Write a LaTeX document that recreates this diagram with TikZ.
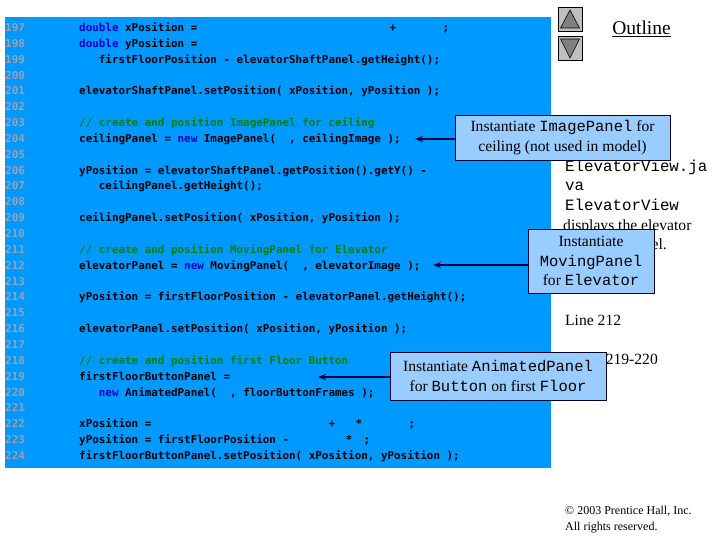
\documentclass[tikz,border=0pt]{standalone}
\usepackage{fontspec}
\setmainfont{Liberation Serif}
\newfontfamily\codef{DejaVu Sans Mono}
\newfontfamily\monof{Liberation Mono}
\usetikzlibrary{arrows.meta}
\definecolor{codebg}{RGB}{0,153,255}
\definecolor{lngray}{RGB}{160,160,170}
\definecolor{kw}{RGB}{0,0,204}
\definecolor{cmt}{RGB}{0,128,0}
\definecolor{callfill}{RGB}{153,204,255}
\definecolor{calldraw}{RGB}{0,0,40}
\definecolor{arrowc}{RGB}{0,0,70}
\definecolor{btnfill}{RGB}{192,192,192}
\definecolor{trifill}{RGB}{128,128,128}
\newcommand\cm[1]{{\monof\fontsize{15.5}{19.5}\selectfont #1}}
\newcommand\kw[1]{{\color{kw}#1}}
\begin{document}
\begin{tikzpicture}[x=1pt,y=-1pt,
  code/.style={anchor=base west, inner sep=0pt, font=\codef\bfseries\fontsize{10.9}{12}\selectfont},
  codec/.style={anchor=base, inner sep=0pt, font=\codef\bfseries\fontsize{10.9}{12}\selectfont},
  callout/.style={draw=calldraw, line width=0.8pt, fill=callfill, align=center, inner sep=0pt,
    font=\fontsize{15.6}{19.5}\selectfont},
  callarrow/.style={draw=arrowc, line width=1.6pt, -{Stealth[length=8pt,width=6pt]}},
  side/.style={anchor=base west, inner sep=0pt, font=\fontsize{15.6}{18}\selectfont},
  sidemono/.style={anchor=base west, inner sep=0pt, font=\monof\fontsize{15.8}{19}\selectfont},
  btn/.style={draw=black, line width=0.6pt, fill=btnfill, minimum width=24pt, minimum height=24pt, inner sep=0pt},
  tri/.style={draw=black, line width=0.6pt, fill=trifill}
]
\useasboundingbox (0,0) rectangle (720,540);
\fill[codebg] (5,17) rectangle (551,468);

% line numbers
\foreach \i in {0,...,27}{
  \pgfmathtruncatemacro\n{197+\i}
  \node[code, text=lngray] (ln\n) at (5,{31.5+15.85*\i}) {\n};
}

% code
\node[code] (c197) at (79,{31.5+15.85*0}) {\kw{double} xPosition =};
\node[codec] (c197a) at (393,{31.5+15.85*0}) {+};
\node[codec] (c197b) at (446,{31.5+15.85*0}) {;};
\node[code] (c198) at (79,{31.5+15.85*1}) {\kw{double} yPosition =};
\node[code] (c199) at (79,{31.5+15.85*2}) {~~~firstFloorPosition - elevatorShaftPanel.getHeight();};
\node[code] (c201) at (79,{31.5+15.85*4}) {elevatorShaftPanel.setPosition( xPosition, yPosition );};
\node[code, text=cmt] (c203) at (79,{31.5+15.85*6}) {// create and position ImagePanel for ceiling};
\node[code] (c204) at (79,{31.5+15.85*7}) {ceilingPanel = \kw{new} ImagePanel(~~, ceilingImage );};
\node[code] (c206) at (79,{31.5+15.85*9}) {yPosition = elevatorShaftPanel.getPosition().getY() -};
\node[code] (c207) at (79,{31.5+15.85*10}) {~~~ceilingPanel.getHeight();};
\node[code] (c209) at (79,{31.5+15.85*12}) {ceilingPanel.setPosition( xPosition, yPosition );};
\node[code, text=cmt] (c211) at (79,{31.5+15.85*14}) {// create and position MovingPanel for Elevator};
\node[code] (c212) at (79,{31.5+15.85*15}) {elevatorPanel = \kw{new} MovingPanel(~~, elevatorImage );};
\node[code] (c214) at (79,{31.5+15.85*17}) {yPosition = firstFloorPosition - elevatorPanel.getHeight();};
\node[code] (c216) at (79,{31.5+15.85*19}) {elevatorPanel.setPosition( xPosition, yPosition );};
\node[code, text=cmt] (c218) at (79,{31.5+15.85*21}) {// create and position first Floor Button};
\node[code] (c219) at (79,{31.5+15.85*22}) {firstFloorButtonPanel =};
\node[code] (c220) at (79,{31.5+15.85*23}) {~~~\kw{new} AnimatedPanel(~~, floorButtonFrames );};
\node[code] (c222) at (79,{31.5+15.85*25}) {xPosition =};
\node[codec] (c222a) at (332,{31.5+15.85*25}) {+};
\node[codec] (c222b) at (359,{31.5+15.85*25}) {*};
\node[codec] (c222c) at (412,{31.5+15.85*25}) {;};
\node[code] (c223) at (79,{31.5+15.85*26}) {yPosition = firstFloorPosition -};
\node[codec] (c223a) at (349,{31.5+15.85*26}) {*};
\node[codec] (c223b) at (367,{31.5+15.85*26}) {;};
\node[code] (c224) at (79,{31.5+15.85*27}) {firstFloorButtonPanel.setPosition( xPosition, yPosition );};

% navigation buttons and outline
\node[btn] (up) at (570,19) {};
\node[btn] (down) at (570,48.5) {};
\filldraw[tri] (570,10) -- (579.5,28) -- (560.5,28) -- cycle;
\filldraw[tri] (560.5,39) -- (579.5,39) -- (570,58) -- cycle;
\node[inner sep=0pt, font=\fontsize{19.5}{22}\selectfont] (outline) at (641.5,29) {\underline{Outline}};

% side text
\node[sidemono] (s1) at (565,172) {ElevatorView.ja};
\node[sidemono] (s2) at (565,191) {va};
\node[sidemono] (s3) at (565,211) {ElevatorView};
\node[side] (s4) at (563,230) {displays the elevator};
\node[side, anchor=base east] (s5) at (667,249) {model.};
\node[side] (s6) at (565,325.5) {Line 212};
\node[side, anchor=base east] (s7) at (658,364.5) {219-220};

% callouts
\node[callout, minimum width=215pt, minimum height=45pt] (k1) at (562.5,137.5)
  {Instantiate \cm{ImagePanel} for\\ceiling (not used in model)};
\node[callout, minimum width=126pt, minimum height=64pt] (k2) at (591,261)
  {Instantiate\\\cm{MovingPanel}\\for \cm{Elevator}};
\node[callout, minimum width=216pt, minimum height=48pt] (k3) at (498,376)
  {Instantiate \cm{AnimatedPanel}\\for \cm{Button} on first \cm{Floor}};

\coordinate (t1) at (415,139);
\coordinate (t2) at (433,265);
\coordinate (t3) at (318,377);
\draw[callarrow] (t1 -| k1.west) -- (t1);
\draw[callarrow] (t2 -| k2.west) -- (t2);
\draw[callarrow] (t3 -| k3.west) -- (t3);

% copyright
\node[side, font=\fontsize{12}{14}\selectfont] (cp1) at (565,514) {© 2003 Prentice Hall, Inc.};
\node[side, font=\fontsize{12}{14}\selectfont] (cp2) at (565,530) {All rights reserved.};
\end{tikzpicture}
\end{document}
